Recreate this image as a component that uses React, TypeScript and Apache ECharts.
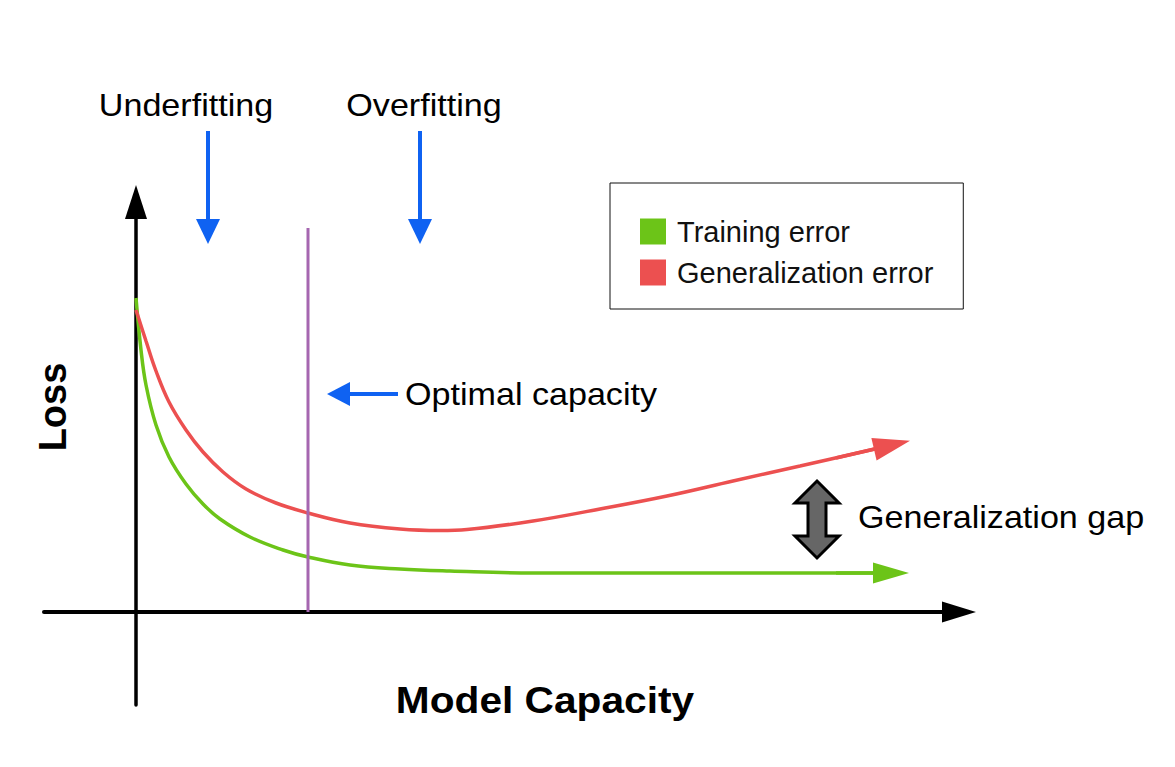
import React, { useEffect, useRef } from "react";
import * as echarts from "echarts";

// Model capacity (x) and loss (y)
const trainingCapacity = [0, 0.5, 1.0, 2.0, 3.3, 5.0, 6.7, 8.4, 11.4, 14.7, 17.2, 21.4, 26.4, 31.4, 39.7, 59.7, 75.5];
const trainingLoss = [31.4, 26.2, 22.7, 18.7, 15.5, 12.8, 10.8, 9.3, 7.5, 6.2, 5.5, 4.7, 4.3, 4.1, 3.9, 3.9, 3.9];

const generalizationCapacity = [0, 1.0, 2.0, 3.3, 5.0, 6.7, 8.7, 11.0, 14.0, 17.2, 21.4, 26.4, 30.4, 33.1, 39.7, 46.4, 53.1, 59.7, 66.4, 75.6];
const generalizationLoss = [30.2, 27.1, 24.1, 21.0, 18.2, 16.0, 14.0, 12.3, 10.9, 9.9, 8.9, 8.3, 8.15, 8.25, 9.1, 10.3, 11.6, 13.1, 14.6, 16.7];

// arrow segments at the end of each curve: [fromX, fromY, toX, toY]
const trainingArrow = [70.0, 3.9, 75.5, 3.9];
const generalizationArrow = [70.0, 15.4, 75.6, 16.7];

const optimalCapacity = 17.2;
const optimalLineTop = 38.4;

const axisRange = { xMin: -9.2, xMax: 82.3, yMin: -9.3, yMax: 41.0 };

const seriesNames = ["Training error", "Generalization error"];
const seriesColors = ["#6CC418", "#EC5050"];

const annotationLabels = {
  under: "Underfitting",
  over: "Overfitting",
  optimal: "Optimal capacity",
  gap: "Generalization gap",
  xName: "Model Capacity",
  yName: "Loss",
};

const FONT = "'Liberation Sans', Arial, Helvetica, sans-serif";
const BLUE = "#0F62F2";

function zip(xs: number[], ys: number[]) {
  return xs.map((x, i) => [x, ys[i]]);
}

function text(t: string, x: number, y: number, size: number, opts: any = {}) {
  return {
    type: "text",
    x,
    y,
    scaleX: opts.scaleX ?? 1,
    rotation: opts.rotation ?? 0,
    silent: true,
    style: {
      text: t,
      fontSize: size,
      fontFamily: FONT,
      fontWeight: opts.bold ? "bold" : "normal",
      fill: "#000",
      align: opts.align ?? "left",
      textAlign: opts.align ?? "left",
      verticalAlign: "middle",
      textVerticalAlign: "middle",
    },
  };
}

export default function App() {
  const ref = useRef<HTMLDivElement>(null);

  useEffect(() => {
    if (!ref.current) return;
    const chart = echarts.init(ref.current, null, { renderer: "svg" });

    const arrowMark = (seg: number[], color: string, size: number[]) => ({
      silent: true,
      symbol: ["none", "triangle"],
      symbolSize: size,
      label: { show: false },
      lineStyle: { color, width: 3.5, type: "solid" },
      emphasis: { disabled: true },
      data: [[{ coord: [seg[0], seg[1]] }, { coord: [seg[2], seg[3]] }]],
    });

    const blueDown = (x: number) => [
      {
        type: "line",
        silent: true,
        shape: { x1: x, y1: 131, x2: x, y2: 222 },
        style: { stroke: BLUE, lineWidth: 4 },
      },
      {
        type: "polygon",
        silent: true,
        shape: { points: [[x - 12, 219], [x + 12, 219], [x, 244]] },
        style: { fill: BLUE },
      },
    ];

    const option: any = {
      animation: false,
      backgroundColor: "#fff",
      grid: { left: 44, right: 216, top: 202, bottom: 62, containLabel: false },
      xAxis: {
        type: "value",
        min: axisRange.xMin,
        max: axisRange.xMax,
        axisLine: {
          onZero: true,
          symbol: ["none", "triangle"],
          symbolSize: [21, 34],
          lineStyle: { color: "#000", width: 4 },
        },
        axisTick: { show: false },
        axisLabel: { show: false },
        splitLine: { show: false },
      },
      yAxis: {
        type: "value",
        min: axisRange.yMin,
        max: axisRange.yMax,
        axisLine: {
          show: true,
          onZero: true,
          symbol: ["none", "triangle"],
          symbolSize: [22, 34],
          lineStyle: { color: "#000", width: 3.5 },
        },
        axisTick: { show: false },
        axisLabel: { show: false },
        splitLine: { show: false },
      },
      legend: {
        data: seriesNames,
        orient: "vertical",
        left: 610,
        top: 183,
        padding: [34, 30, 22, 30],
        itemGap: 12,
        itemWidth: 26,
        itemHeight: 26,
        icon: "rect",
        selectedMode: false,
        borderColor: "#111",
        borderWidth: 1,
        itemStyle: { borderWidth: 0 },
        textStyle: {
          fontFamily: FONT,
          fontSize: 29,
          color: "#111",
          lineHeight: 26,
          padding: [0, 0, 0, 6],
        },
      },
      series: [
        {
          name: seriesNames[0],
          type: "line",
          data: zip(trainingCapacity, trainingLoss),
          smooth: 0.4,
          showSymbol: false,
          symbol: "none",
          itemStyle: { color: seriesColors[0] },
          lineStyle: { color: seriesColors[0], width: 3.5 },
          markLine: arrowMark(trainingArrow, seriesColors[0], [21, 36]),
          z: 3,
        },
        {
          name: seriesNames[1],
          type: "line",
          data: zip(generalizationCapacity, generalizationLoss),
          smooth: 0.4,
          showSymbol: false,
          symbol: "none",
          itemStyle: { color: seriesColors[1] },
          lineStyle: { color: seriesColors[1], width: 3.5 },
          markLine: arrowMark(generalizationArrow, seriesColors[1], [23, 37]),
          z: 3,
        },
        {
          name: "Optimal capacity line",
          type: "line",
          data: [
            [optimalCapacity, 0],
            [optimalCapacity, optimalLineTop],
          ],
          showSymbol: false,
          symbol: "none",
          lineStyle: { color: "#A566B0", width: 3 },
          z: 4,
        },
      ],
      graphic: [
        ...blueDown(208),
        ...blueDown(420),
        {
          type: "line",
          silent: true,
          shape: { x1: 398, y1: 394, x2: 346, y2: 394 },
          style: { stroke: BLUE, lineWidth: 4 },
        },
        {
          type: "polygon",
          silent: true,
          shape: { points: [[350, 382], [350, 406], [327, 394]] },
          style: { fill: BLUE },
        },
        {
          type: "polygon",
          silent: true,
          shape: {
            points: [
              [817, 481], [839, 503], [826, 503], [826, 536], [839, 536],
              [817, 558], [795, 536], [808, 536], [808, 503], [795, 503],
            ],
          },
          style: { fill: "#666666", stroke: "#000", lineWidth: 3, lineJoin: "miter" },
        },
        text(annotationLabels.under, 186, 106, 31, { align: "center", scaleX: 1.1 }),
        text(annotationLabels.over, 424, 106, 31, { align: "center", scaleX: 1.1 }),
        text(annotationLabels.optimal, 405, 395, 31, { scaleX: 1.1 }),
        text(annotationLabels.gap, 858, 518, 31, { scaleX: 1.1 }),
        text(annotationLabels.xName, 545, 700, 36, { align: "center", bold: true, scaleX: 1.13 }),
        text(annotationLabels.yName, 53, 407, 38, { align: "center", bold: true, rotation: Math.PI / 2 }),
      ],
    };

    chart.setOption(option);
    return () => chart.dispose();
  }, []);

  return (
    <div
      ref={ref}
      style={{ position: "absolute", left: 0, top: 0, width: 1175, height: 767, background: "#fff" }}
    />
  );
}
